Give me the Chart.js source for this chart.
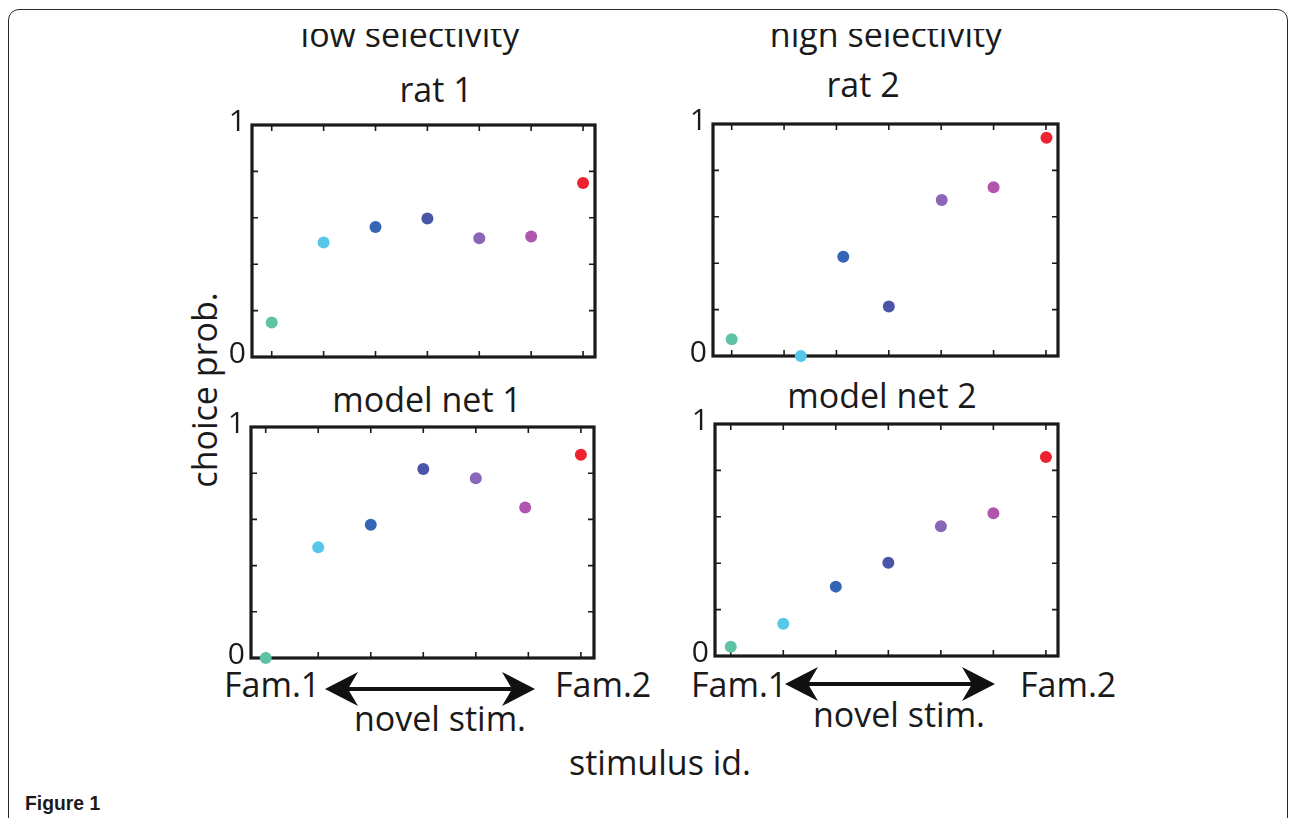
<!DOCTYPE html>
<html>
<head>
<meta charset="utf-8">
<title>Figure 1</title>
<script src="https://cdn.jsdelivr.net/npm/chart.js@4.4.1/dist/chart.umd.min.js"></script>
<style>
  html, body { margin: 0; padding: 0; background: #fff; }
  body {
    width: 1290px; height: 818px; position: relative; overflow: hidden;
    font-family: "Open Sans", "Noto Sans", sans-serif; color: #1a1a1a;
  }
  .frame {
    position: absolute; left: 8px; top: 9px; width: 1280px; height: 840px;
    border: 1.5px solid #2a2a2a; border-radius: 11px; box-sizing: border-box;
  }
  .txt { position: absolute; white-space: nowrap; font-size: 34px; line-height: 1; }
  .c { transform: translateX(-50%); }
  .clip { position: absolute; top: 29px; height: 40px; width: 400px; overflow: hidden; }
  .clip .txt { top: -12px; left: 200px; }
  .ylab { position: absolute; left: 204px; top: 390px; font-size: 34px; line-height: 1; white-space: nowrap;
          transform: translate(-50%, -50%) rotate(-90deg); }
  .fig { position: absolute; left: 25px; top: 792px; font-size: 21px; font-weight: bold; line-height: 1;
         font-family: "Liberation Sans", Arial, sans-serif; transform: scaleX(0.92); transform-origin: left top; }
  .panel { position: absolute; }
  svg { position: absolute; left: 0; top: 0; }
</style>
</head>
<body>
<div class="frame"></div>

<div class="clip" style="left:210px"><div class="txt c">low selectivity</div></div>
<div class="clip" style="left:686px"><div class="txt c">high selectivity</div></div>

<div class="txt c" style="left:436px; top:72px">rat 1</div>
<div class="txt c" style="left:863px; top:67px">rat 2</div>
<div class="txt c" style="left:427px; top:382px">model net 1</div>
<div class="txt c" style="left:882px; top:378px">model net 2</div>

<div class="ylab">choice prob.</div>

<div class="txt" style="left:224px; top:667px">Fam.1</div>
<div class="txt" style="left:555px; top:667px">Fam.2</div>
<div class="txt c" style="left:440px; top:701px">novel stim.</div>
<div class="txt" style="left:691px; top:667px">Fam.1</div>
<div class="txt" style="left:1020px; top:667px">Fam.2</div>
<div class="txt c" style="left:899px; top:697px">novel stim.</div>
<div class="txt c" style="left:660px; top:745px">stimulus id.</div>

<div class="fig">Figure 1</div>

<svg width="1290" height="818">
  <g fill="#111" stroke="#111">
    <line x1="345" y1="689" x2="515" y2="689" stroke-width="4"/>
    <path d="M325 689 L358 672 L348 689 L358 706 Z" stroke="none"/>
    <path d="M535 689 L502 672 L512 689 L502 706 Z" stroke="none"/>
    <line x1="805" y1="684" x2="975" y2="684" stroke-width="4"/>
    <path d="M785 684 L818 667 L808 684 L818 701 Z" stroke="none"/>
    <path d="M995 684 L962 667 L972 684 L962 701 Z" stroke="none"/>
  </g>
</svg>

<div class="panel" id="p1"><canvas id="rat1Chart"></canvas></div>
<div class="panel" id="p2"><canvas id="rat2Chart"></canvas></div>
<div class="panel" id="p3"><canvas id="net1Chart"></canvas></div>
<div class="panel" id="p4"><canvas id="net2Chart"></canvas></div>

<script>
"use strict";

/**************************************************************
 * Data
 **************************************************************/
// one colour per stimulus: Fam.1, five novel stimuli, Fam.2
const stimColors = ["#5ec3a4", "#55c8e8", "#3565b5", "#4a55a8", "#8a66b8", "#b054ae", "#ee2230"];

const rat1X = [1, 2, 3, 4, 5, 6, 7];
const rat1Y = [0.149, 0.494, 0.56, 0.597, 0.512, 0.519, 0.75];

const rat2X = [1, 2.32, 3.13, 4, 5.01, 6, 7.01];
const rat2Y = [0.072, 0.0, 0.428, 0.213, 0.672, 0.727, 0.941];

const net1X = [1, 2, 3, 4, 5, 5.94, 7];
const net1Y = [0.0, 0.479, 0.577, 0.818, 0.778, 0.652, 0.88];

const net2X = [1, 2, 3, 4, 5, 6, 7];
const net2Y = [0.04, 0.139, 0.299, 0.402, 0.559, 0.615, 0.858];

const xTicks = [1, 2, 3, 4, 5, 6, 7];
const yTicks = [0.2, 0.4, 0.6, 0.8];
const yLabelValues = [0, 1];
const yLabels = ["0", "1"];

/**************************************************************
 * Box, inward ticks and 0/1 labels
 **************************************************************/
const boxPlugin = {
  id: "box",
  beforeDatasetsDraw(chart) {
    const { ctx, chartArea: a } = chart;
    const xs = chart.scales.x;
    const ys = chart.scales.y;

    ctx.save();
    ctx.strokeStyle = "#1a1a1a";
    ctx.lineWidth = 1.6;
    ctx.beginPath();
    xTicks.forEach((v) => {
      const px = xs.getPixelForValue(v);
      ctx.moveTo(px, a.bottom);
      ctx.lineTo(px, a.bottom - 6);
      ctx.moveTo(px, a.top);
      ctx.lineTo(px, a.top + 6);
    });
    yTicks.forEach((v) => {
      const py = ys.getPixelForValue(v);
      ctx.moveTo(a.left, py);
      ctx.lineTo(a.left + 6, py);
      ctx.moveTo(a.right, py);
      ctx.lineTo(a.right - 6, py);
    });
    ctx.stroke();

    ctx.lineWidth = 3.2;
    ctx.strokeRect(a.left, a.top, a.right - a.left, a.bottom - a.top);

    ctx.fillStyle = "#1a1a1a";
    ctx.font = "30px 'Open Sans'";
    ctx.textAlign = "right";
    ctx.textBaseline = "middle";
    yLabels.forEach((t, i) => {
      ctx.fillText(t, a.left - 6, ys.getPixelForValue(yLabelValues[i]) - 3);
    });
    ctx.restore();
  },
};

/**************************************************************
 * Build a panel
 **************************************************************/
const PAD = { left: 40, top: 20, right: 20, bottom: 20 };

function makePanel(wrapId, canvasId, box, xMin, xMax, xs, ys) {
  const wrap = document.getElementById(wrapId);
  wrap.style.left = box.left - PAD.left + "px";
  wrap.style.top = box.top - PAD.top + "px";
  wrap.style.width = box.right - box.left + PAD.left + PAD.right + "px";
  wrap.style.height = box.bottom - box.top + PAD.top + PAD.bottom + "px";

  new Chart(document.getElementById(canvasId), {
    type: "scatter",
    data: {
      datasets: [
        {
          data: xs.map((x, i) => ({ x: x, y: ys[i] })),
          pointBackgroundColor: stimColors,
          pointBorderWidth: 0,
          pointRadius: 6,
          showLine: false,
          clip: false,
        },
      ],
    },
    options: {
      responsive: true,
      maintainAspectRatio: false,
      animation: false,
      layout: { padding: PAD },
      scales: {
        x: { type: "linear", min: xMin, max: xMax, display: false },
        y: { type: "linear", min: 0, max: 1, display: false },
      },
      plugins: {
        legend: { display: false },
        tooltip: { enabled: false },
      },
    },
    plugins: [boxPlugin],
  });
}

makePanel("p1", "rat1Chart", { left: 252, top: 125, right: 595, bottom: 357 }, 0.62, 7.23, rat1X, rat1Y);
makePanel("p2", "rat2Chart", { left: 713, top: 124, right: 1058, bottom: 356 }, 0.643, 7.23, rat2X, rat2Y);
makePanel("p3", "net1Chart", { left: 251, top: 427, right: 594, bottom: 658 }, 0.72, 7.25, net1X, net1Y);
makePanel("p4", "net2Chart", { left: 715, top: 424, right: 1058, bottom: 656 }, 0.70, 7.23, net2X, net2Y);
</script>
</body>
</html>
